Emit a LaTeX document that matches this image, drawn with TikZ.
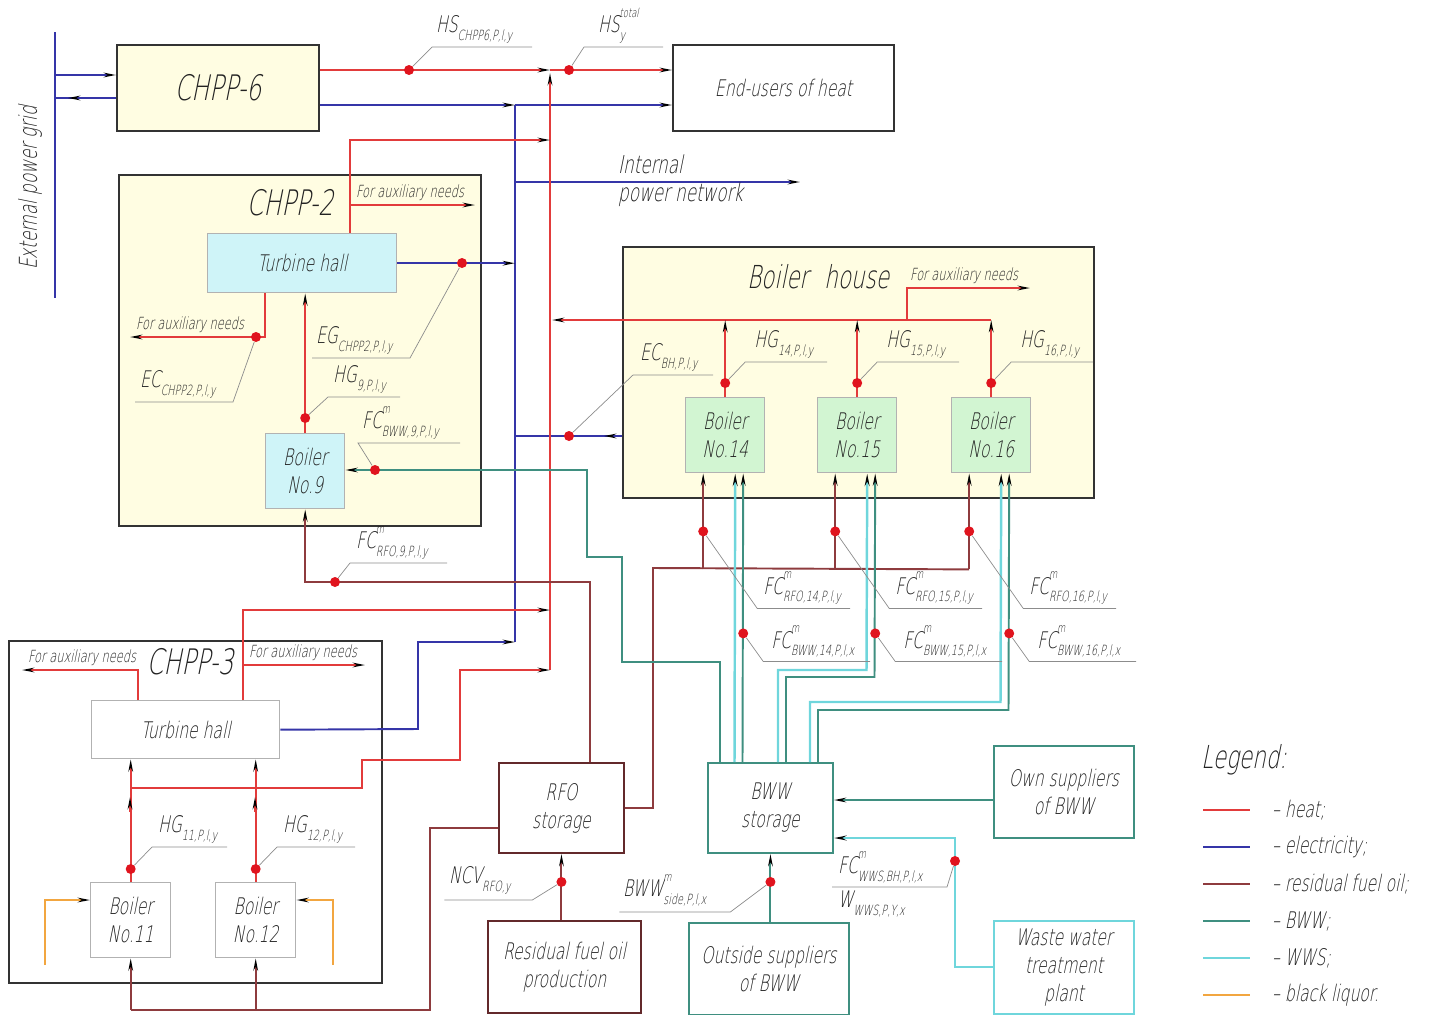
\documentclass[tikz,border=0pt]{standalone}
\usepackage{fontspec}
\setmainfont{DejaVu Sans ExtraLight}[FakeStretch=0.68,FakeSlant=0.2]
\usepackage{tikz}
\usetikzlibrary{arrows.meta,positioning,calc}
\definecolor{heatc}{HTML}{E23B3B}
\definecolor{elecc}{HTML}{3535A8}
\definecolor{rfoc}{HTML}{8E3B3E}
\definecolor{bwwc}{HTML}{3F8F80}
\definecolor{wwsc}{HTML}{6FD6DC}
\definecolor{liqc}{HTML}{F2A640}
\definecolor{dotc}{HTML}{E0141E}
\definecolor{housec}{HTML}{FFFDE2}
\definecolor{hallc}{HTML}{CFF4F8}
\definecolor{boilc}{HTML}{D2F5D2}
\definecolor{inkc}{HTML}{222222}
\newcommand{\fsz}[2]{\fontsize{#1}{#2}\selectfont}
\newcommand{\qlab}[3]{#1\rlap{\raisebox{1.25ex}{\fsz{7}{8}#2}}\raisebox{-0.6ex}{\fsz{8}{9}#3}}

\begin{document}
\begin{tikzpicture}[x=0.02cm,y=-0.02cm,text=inkc,
  box/.style={draw=black!80,line width=1.1pt,anchor=north west,inner sep=0pt,align=center,font=\fsz{13}{16}},
  lite/.style={box,draw=black!30,line width=0.8pt},
  heat/.style={draw=heatc,line width=1.1pt},
  elec/.style={draw=elecc,line width=1.1pt},
  rfol/.style={draw=rfoc,line width=1.1pt},
  bwwl/.style={draw=bwwc,line width=1.1pt},
  wwsl/.style={draw=wwsc,line width=1.4pt},
  liq/.style={draw=liqc,line width=1.1pt},
  arr/.style={-{Stealth[color=black,length=0.24cm,width=0.09cm]}},
  meter/.style={circle,fill=dotc,inner sep=0pt,minimum size=0.2cm},
  lead/.style={draw=black!45,line width=0.4pt},
  tag/.style={anchor=south west,inner sep=1pt,font=\fsz{13}{15}},
  aux/.style={anchor=south west,inner sep=1pt,font=\fsz{9.5}{11}},
  ttl/.style={font=\fsz{20}{22}}]
  \useasboundingbox (0,0) rectangle (1429,1014);

  % Blocks
  \node[box,fill=housec,minimum width=4.04cm,minimum height=1.72cm,font=\fsz{20}{22}] (chpp6) at (116,44) {CHPP-6};
  \node[box,minimum width=4.42cm,minimum height=1.72cm] (users) at (672,44) {End-users of heat};

  \node[box,fill=housec,minimum width=7.24cm,minimum height=7.02cm] (chpp2) at (118,174) {};
  \node[ttl] (chpp2t) at (290,203) {CHPP-2};
  \node[lite,fill=hallc,minimum width=3.78cm,minimum height=1.18cm] (th2) at (207,233) {Turbine hall};
  \node[lite,fill=hallc,minimum width=1.58cm,minimum height=1.5cm] (b9) at (265,433) {Boiler\\No.9};

  \node[box,fill=housec,minimum width=9.42cm,minimum height=5.02cm] (bh) at (622,246) {};
  \node[ttl,font=\fsz{18}{20}] (bht) at (818,277) {Boiler\enspace house};
  \node[lite,fill=boilc,minimum width=1.58cm,minimum height=1.5cm] (b14) at (685,397) {Boiler\\No.14};
  \node[lite,fill=boilc,minimum width=1.58cm,minimum height=1.5cm] (b15) at (817,397) {Boiler\\No.15};
  \node[lite,fill=boilc,minimum width=1.58cm,minimum height=1.5cm] (b16) at (951,397) {Boiler\\No.16};

  \node[box,minimum width=7.46cm,minimum height=6.84cm] (chpp3) at (8,640) {};
  \node[ttl] (chpp3t) at (190,662) {CHPP-3};
  \node[lite,minimum width=3.76cm,minimum height=1.16cm] (th3) at (91,700) {Turbine hall};
  \node[lite,minimum width=1.6cm,minimum height=1.5cm] (b11) at (90,882) {Boiler\\No.11};
  \node[lite,minimum width=1.6cm,minimum height=1.5cm] (b12) at (215,882) {Boiler\\No.12};

  \node[box,draw=rfoc!70!black,minimum width=2.5cm,minimum height=1.8cm] (rfo) at (498,762) {RFO\\storage};
  \node[box,draw=rfoc!70!black,minimum width=3.06cm,minimum height=1.84cm] (prod) at (487,920) {Residual fuel oil\\production};
  \node[box,draw=bwwc,minimum width=2.5cm,minimum height=1.8cm] (bww) at (707,762) {BWW\\storage};
  \node[box,draw=bwwc,minimum width=3.2cm,minimum height=1.84cm] (out) at (688,922) {Outside suppliers\\of BWW};
  \node[box,draw=bwwc,minimum width=2.8cm,minimum height=1.84cm] (own) at (993,745) {Own suppliers\\of BWW};
  \node[box,draw=wwsc,minimum width=2.8cm,minimum height=1.86cm] (wwt) at (993,920) {Waste water\\treatment\\plant};

  % Electricity
  \draw[elec] (55,32) -- (55,298);
  \node[rotate=90,font=\fsz{14}{16}] (gridt) at (30,188) {External power grid};
  \draw[elec,arr] (55,75) -- (chpp6.west |- 0,75);
  \draw[elec] (chpp6.west |- 0,98) -- (55,98);
  \draw[elec,arr] (84,98) -- (68,98);
  \coordinate (ebus) at (515,105);
  \draw[elec,arr] (chpp6.east |- ebus) -- (ebus);
  \draw[elec,arr] (ebus) -- (users.west |- ebus);
  \draw[elec] (ebus) -- (515,642);
  \draw[elec,arr] (515,182) -- (800,182);
  \node[anchor=west,align=left,font=\fsz{14}{16}] (inet) at (612,181) {Internal\\power network};
  \draw[elec,arr] (th2.east) -- (th2.east -| ebus);
  \draw[elec] (bh.west |- 0,436) -- (515,436);
  \draw[elec,arr] (620,436) -- (604,436);
  \draw[elec,arr] (th3.east) -- (418,729) -- (418,642) -- (515,642);

  % Heat
  \coordinate (hbus) at (550,70);
  \draw[heat,arr] (chpp6.east |- hbus) -- (hbus);
  \draw[heat,arr] (hbus) -- (users.west |- hbus);
  \draw[heat,arr] (550,670) -- (550,73);
  \draw[heat,arr] (th2.north -| 350,0) -- (350,140) -- (550,140);
  \draw[heat,arr] (350,205) -- (475,205);
  \node[aux] (aux1) at (354,203) {For auxiliary needs};
  \draw[heat,arr] (th2.south -| 265,0) -- (265,337) -- (130,337);
  \node[aux] (aux2) at (134,335) {For auxiliary needs};
  \draw[heat,arr] (b9.north) -- (b9.north |- th2.south);
  \draw[heat,arr] (b16.north |- 0,320) -- (552,320);
  \draw[heat,arr] (907,320) -- (907,288) -- (1030,288);
  \node[aux] (aux3) at (908,286) {For auxiliary needs};
  \foreach \b in {b14,b15,b16}
    \draw[heat,arr] (\b.north) -- (\b.north |- 0,320);
  \draw[heat,arr] (th3.north -| 138,0) -- (138,670) -- (22,670);
  \node[aux] (aux4) at (26,668) {For auxiliary needs};
  \draw[heat,arr] (th3.north -| 243,0) -- (243,610) -- (550,610);
  \draw[heat,arr] (243,665) -- (365,665);
  \node[aux] (aux5) at (247,663) {For auxiliary needs};
  \draw[heat,arr] (b11.north) -- (b11.north |- th3.south);
  \draw[heat,arr] (b12.north) -- (b12.north |- th3.south);
  \draw[heat,arr] (130,812) -- (130,797);
  \draw[heat,arr] (255,812) -- (255,797);
  \draw[heat,arr] (130,788) -- (362,788) -- (362,760) -- (460,760) -- (460,670) -- (550,670);

  % Black liquor
  \draw[liq,arr] (45,965) -- (45,900) -- (b11.west |- 0,900);
  \draw[liq,arr] (333,965) -- (333,900) -- (b12.east |- 0,900);

  % Residual fuel oil
  \draw[rfol] (rfo.west |- 0,828) -- (430,828) -- (430,1010) -- (b11.south |- 0,1010);
  \draw[rfol,arr] (b11.south |- 0,1010) -- (b11.south);
  \draw[rfol,arr] (b12.south |- 0,1010) -- (b12.south);
  \draw[rfol,arr] (rfo.north -| 590,0) -- (590,582) -- (b9.south |- 0,582) -- (b9.south);
  \draw[rfol] (rfo.east |- 0,808) -- (653,808) -- (653,568) -- ($(b16.south)+(-22,96)$);
  \foreach \b in {b14,b15,b16}
    \draw[rfol,arr] ($(\b.south)+(-22,96)$) -- ($(\b.south)+(-22,0)$);
  \draw[rfol,arr] (rfo.south |- prod.north) -- (rfo.south);

  % BWW and WWS
  \draw[bwwl,arr] (bww.north -| 720,0) -- (720,662) -- (622,662) -- (622,557) -- (587,557) -- (587,470) -- (b9.east |- 0,470);
  \draw[bwwl,arr] (own.west |- 0,800) -- (bww.east |- 0,800);
  \draw[bwwl,arr] (bww.south |- out.north) -- (bww.south);
  \draw[wwsl,arr] (bww.north -| 734.5,0) -- ($(b14.south)+(10,0)$);
  \draw[bwwl,arr] (bww.north -| 742.5,0) -- ($(b14.south)+(18,0)$);
  \draw[wwsl,arr] (bww.north -| 778,0) -- (778,670) -- (866.5,670) -- ($(b15.south)+(10,0)$);
  \draw[bwwl,arr] (bww.north -| 786,0) -- (786,677) -- (874.5,677) -- ($(b15.south)+(18,0)$);
  \draw[wwsl,arr] (bww.north -| 810,0) -- (810,702) -- (1000.5,702) -- ($(b16.south)+(10,0)$);
  \draw[bwwl,arr] (bww.north -| 818,0) -- (818,710) -- (1008.5,710) -- ($(b16.south)+(18,0)$);
  \draw[wwsl,arr] (wwt.west |- 0,967) -- (955,967) -- (955,838) -- (bww.east |- 0,838);

  % Metering points
  \node[meter] (mhs6) at (409,70) {};
  \draw[lead] (mhs6) -- (432,47) -- (532,47);
  \node[tag] (ths6) at (434,45) {\qlab{HS}{}{CHPP6,P,l,y}};
  \node[meter] (mhst) at (569,70) {};
  \draw[lead] (mhst) -- (584,47) -- (663,47);
  \node[tag] (thst) at (596,45) {\qlab{HS}{total}{y}};
  \node[meter] (meg2) at (462,263) {};
  \draw[lead] (meg2) -- (410,358) -- (312,358);
  \node[tag] (teg2) at (314,356) {\qlab{EG}{}{CHPP2,P,l,y}};
  \node[meter] (mec2) at (256,337) {};
  \draw[lead] (mec2) -- (233,402) -- (135,402);
  \node[tag] (tec2) at (138,400) {\qlab{EC}{}{CHPP2,P,l,y}};
  \node[meter] (mhg9) at ($(b9.north)+(0,-15)$) {};
  \draw[lead] (mhg9) -- (328,397) -- (400,397);
  \node[tag] (thg9) at (331,395) {\qlab{HG}{}{9,P,l,y}};
  \node[meter] (mfb9) at (375,470) {};
  \draw[lead] (mfb9) -- (358,443) -- (460,443);
  \node[tag] (tfb9) at (360,441) {\qlab{FC}{m}{BWW,9,P,l,y}};
  \node[meter] (mfr9) at (335,582) {};
  \draw[lead] (mfr9) -- (350,563) -- (447,563);
  \node[tag] (tfr9) at (354,561) {\qlab{FC}{m}{RFO,9,P,l,y}};
  \node[meter] (mecb) at (569,436) {};
  \draw[lead] (mecb) -- (633,375) -- (713,375);
  \node[tag] (tecb) at (638,373) {\qlab{EC}{}{BH,P,l,y}};
  \foreach \b/\n in {b14/14,b15/15,b16/16} {
    \node[meter] (mhg\n) at ($(\b.north)+(0,-14)$) {};
    \draw[lead] (mhg\n) -- ++(20,-21) -- ++(82,0);
    \node[tag] (thg\n) at ($(\b.north)+(27,-37)$) {\qlab{HG}{}{\n,P,l,y}};
    \node[meter] (mfr\n) at ($(\b.south)+(-22,58)$) {};
    \draw[lead] (mfr\n) -- ++(54,77) -- ++(93,0);
    \node[tag] (tfr\n) at ($(\b.south)+(36,133)$) {\qlab{FC}{m}{RFO,\n,P,l,y}};
    \node[meter] (mfb\n) at ($(\b.south)+(18,160)$) {};
    \draw[lead] (mfb\n) -- ++(20,28) -- ++(107,0);
    \node[tag] (tfb\n) at ($(\b.south)+(44,186)$) {\qlab{FC}{m}{BWW,\n,P,l,x}};
  }
  \node[meter] (mhg11) at ($(b11.north)+(0,-13)$) {};
  \draw[lead] (mhg11) -- (152,847) -- (227,847);
  \node[tag] (thg11) at (156,845) {\qlab{HG}{}{11,P,l,y}};
  \node[meter] (mhg12) at ($(b12.north)+(0,-13)$) {};
  \draw[lead] (mhg12) -- (277,847) -- (355,847);
  \node[tag] (thg12) at (281,845) {\qlab{HG}{}{12,P,l,y}};
  \node[meter] (mncv) at ($(rfo.south)+(0,28)$) {};
  \draw[lead] (mncv) -- ++(-29,18) -- ++(-88,0);
  \node[tag] (tncv) at (447,896) {\qlab{NCV}{}{RFO,y}};
  \node[meter] (mside) at ($(bww.south)+(0,28)$) {};
  \draw[lead] (mside) -- ++(-40,30) -- ++(-111,0);
  \node[tag] (tside) at (621,908) {\qlab{BWW}{m}{side,P,l,x}};
  \node[meter] (mwws) at (955,861) {};
  \draw[lead] (mwws) -- (947,887) -- (832,887);
  \node[tag] (twws) at (836,885) {\qlab{FC}{m}{WWS,BH,P,l,x}};
  \node[tag,anchor=north west] (twwy) at (836,889) {\qlab{W}{}{WWS,P,Y,x}};

  % Legend
  \node[anchor=west,font=\fsz{18}{20}] (legt) at (1195,760) {Legend:};
  \foreach \s/\t [count=\i from 0] in {heat/{-- heat;},elec/{-- electricity;},rfol/{-- residual fuel oil;},bwwl/{-- BWW;},wwsl/{-- WWS;},liq/{-- black liquor.}} {
    \draw[\s] (1203,810+37*\i) -- (1250,810+37*\i);
    \node[anchor=west,font=\fsz{13}{15}] (leg\i) at (1266,810+37*\i) {\t};
  }
\end{tikzpicture}
\end{document}
